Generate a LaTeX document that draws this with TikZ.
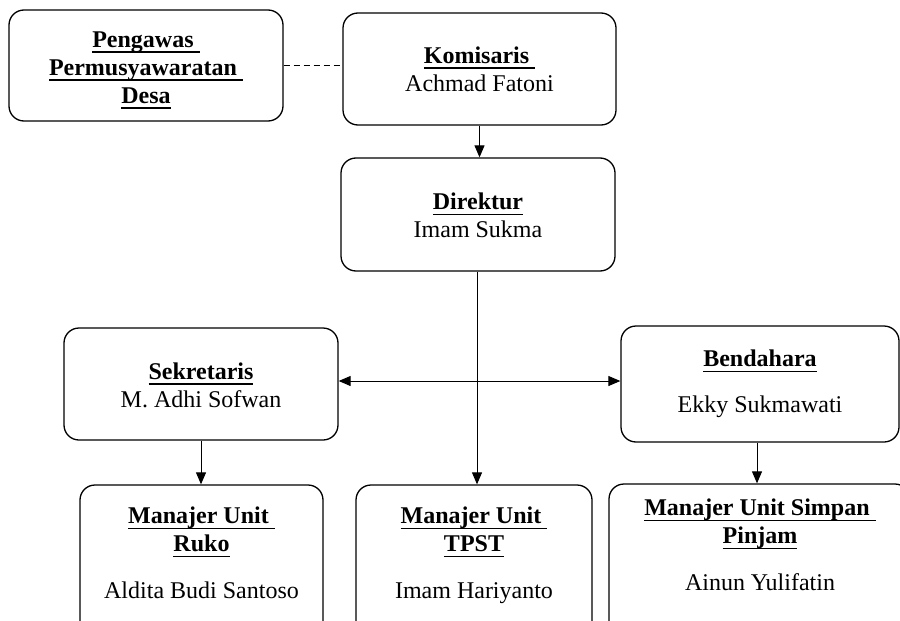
\documentclass[tikz,border=0pt]{standalone}
\usepackage{fontspec}
\setmainfont{Liberation Serif}
\usetikzlibrary{arrows.meta,calc}
\newcommand{\ub}[1]{\setbox0\hbox{\textbf{#1}}\rlap{\rule[-5.5pt]{\wd0}{1.6pt}}\box0}
\begin{document}
\begin{tikzpicture}[x=1pt,y=-1pt,
  box/.style={draw, line width=1.3pt, rounded corners=15pt, inner sep=0pt,
    align=center, font=\fontsize{24}{28}\selectfont},
  txt/.style={align=center, font=\fontsize{24}{28}\selectfont, inner sep=0pt},
  conn/.style={line width=1pt, -{Triangle[width=10pt,length=12pt]}},
  dconn/.style={line width=1pt, {Triangle[width=10pt,length=12pt]}-{Triangle[width=10pt,length=12pt]}},
]
\useasboundingbox (0,0) rectangle (900,621);
\clip (0,0) rectangle (900,621);

\node[box, minimum width=274pt, minimum height=111pt] (peng) at (146,65.5)
  {\rule{0pt}{25pt}\ub{Pengawas\ }\\\ub{Permusyawaratan\ }\\\ub{Desa}};
\node[box, minimum width=273pt, minimum height=112pt] (kom) at (479.5,69)
  {\ub{Komisaris\ }\\Achmad Fatoni};
\node[box, minimum width=274pt, minimum height=113pt] (dir) at (478,214.5)
  {\rule{0pt}{19pt}\ub{Direktur}\\Imam Sukma};
\node[box, minimum width=274pt, minimum height=112pt] (sek) at (201,384)
  {\rule{0pt}{19pt}\ub{Sekretaris}\\M. Adhi Sofwan};
\node[box, minimum width=278pt, minimum height=116pt] (ben) at (760,384)
  {\ub{Bendahara}\\[18pt]Ekky Sukmawati};

\node[box, minimum width=243pt, minimum height=155pt] (ruko) at (201.5,562.5) {};
\node[box, minimum width=236pt, minimum height=155pt] (tpst) at (474,562.5) {};
\node[box, minimum width=301pt, minimum height=156pt] (simp) at (759.5,562) {};

\node[txt, anchor=north] (rukot) at (201.5,507)
  {\ub{Manajer Unit\ }\\\ub{Ruko}\\[19pt]Aldita Budi Santoso};
\node[txt, anchor=north] (tpstt) at (474,507)
  {\ub{Manajer Unit\ }\\\ub{TPST}\\[19pt]Imam Hariyanto};
\node[txt, anchor=north] (simpt) at (760,499)
  {\ub{Manajer Unit Simpan\ }\\\ub{Pinjam}\\[19pt]Ainun Yulifatin};

\draw[line width=1pt, dash pattern=on 6pt off 4pt] (peng.east) -- (peng.east -| kom.west);
\draw[conn] (kom.south) -- (kom.south |- dir.north);
\draw[conn] ([xshift=-1pt]dir.south) -- ([xshift=-1pt]dir.south |- tpst.north);
\draw[dconn] ([yshift=3pt]sek.east) -- ([yshift=3pt]ben.west);
\draw[conn] (sek.south) -- (sek.south |- ruko.north);
\draw[conn] ([xshift=-3pt]ben.south) -- ([xshift=-3pt]ben.south |- simp.north);
\end{tikzpicture}
\end{document}
